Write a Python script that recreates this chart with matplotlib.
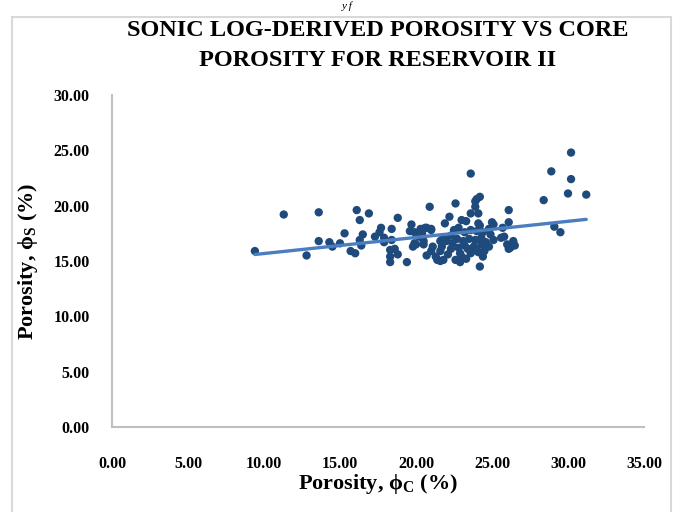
import matplotlib.pyplot as plt
import numpy as np
from matplotlib.patches import Rectangle

# ---------- data ----------
core_phi = [
    9.4, 11.3, 12.8, 13.6, 13.6, 14.3, 14.5, 15.0, 15.3, 15.7, 16.0, 16.1, 16.3,
    16.9, 16.5, 16.3, 16.4, 17.3, 17.7, 17.6, 17.9, 17.9, 18.4, 18.4, 18.8, 18.3,
    18.6, 18.3, 18.8, 18.3, 19.4, 19.7, 19.6, 19.9, 19.8, 19.9, 20.4, 20.7, 20.5,
    20.9, 20.7, 20.0, 20.5, 21.0, 21.3, 21.4, 21.6, 21.1, 21.6, 21.7, 21.8, 21.9,
    22.2, 21.0, 23.6, 22.6, 23.9, 24.0, 24.2, 23.9, 23.6, 24.1, 23.0, 23.3, 24.1,
    24.2, 26.1, 25.0, 25.1, 26.1, 22.5, 22.8, 23.2, 23.6, 24.0, 24.8, 25.7, 25.6,
    25.8, 25.1, 26.4, 26.5, 26.2, 24.8, 24.3, 23.8, 23.4, 22.8, 22.3, 22.0, 21.7,
    23.0, 22.6, 22.9, 23.6, 24.1, 24.2, 21.8, 21.6, 30.2, 28.9, 30.2, 30.0, 31.2,
    28.4, 29.1, 29.5, 26.0, 22.4, 22.7, 23.1, 23.5, 23.9, 24.3, 24.6, 23.2, 24.0,
    24.5, 22.9, 23.3, 24.4, 22.1, 24.9, 24.4, 22.3, 20.2, 20.3, 20.6, 21.0, 26.1,
]
sonic_phi = [
    15.9, 19.2, 15.5, 19.4, 16.8, 16.7, 16.3, 16.6, 17.5, 15.9, 15.7, 19.6, 18.7,
    19.3, 17.4, 16.9, 16.4, 17.2, 18.0, 17.6, 17.1, 16.7, 17.9, 16.9, 18.9, 16.0,
    16.1, 15.4, 15.6, 14.9, 14.9, 18.3, 17.7, 17.6, 16.3, 16.6, 17.5, 18.0, 16.5,
    19.9, 15.5, 16.5, 16.8, 15.9, 15.4, 15.1, 15.0, 16.3, 16.8, 16.3, 17.1, 18.4,
    19.0, 17.8, 22.9, 20.2, 20.4, 20.6, 20.8, 19.9, 19.3, 19.3, 18.7, 18.6, 18.4,
    18.2, 19.6, 18.5, 18.3, 18.5, 17.8, 18.0, 17.6, 17.8, 17.7, 17.9, 18.0, 17.1,
    17.2, 16.9, 16.8, 16.4, 16.2, 16.3, 16.5, 16.3, 16.1, 16.2, 16.1, 16.8, 16.9,
    15.4, 15.1, 14.9, 15.7, 15.8, 14.5, 15.1, 15.9, 24.8, 23.1, 22.4, 21.1, 21.0,
    20.5, 18.1, 17.6, 16.5, 16.6, 17.0, 16.8, 17.0, 16.9, 17.1, 16.7, 16.4, 16.0,
    15.9, 15.7, 15.2, 15.4, 15.6, 17.4, 17.6, 17.3, 17.2, 17.9, 18.0, 17.9, 16.1,
]
x_ticks = [0, 5, 10, 15, 20, 25, 30, 35]
y_ticks = [0, 5, 10, 15, 20, 25, 30]

DOT_BLUE = "#1F4A7C"
LINE_BLUE = "#4A7EBF"
AXIS_GREY = "#BFBFBF"
SERIF = ["Liberation Serif", "DejaVu Serif"]

plt.rcParams["font.family"] = SERIF
plt.rcParams["mathtext.fontset"] = "custom"
plt.rcParams["mathtext.rm"] = "Liberation Serif:bold"

W, H = 678, 512
fig = plt.figure(figsize=(W / 100, H / 100), dpi=100)
fig.patch.set_facecolor("white")

# outer chart frame (bottom runs off the page)
fig.patches.append(
    Rectangle((12 / W, -0.05), (671 - 12) / W, 1.05 - 17 / H,
              transform=fig.transFigure, fill=False,
              edgecolor="#D9D9D9", linewidth=1.5)
)
# leftover bit of the page text above the chart
fig.text(0.512, 1 - 1 / H, "y f", ha="center", va="top",
         fontsize=8, style="italic")

left, right, top, bottom = 112, 644, 95, 427
ax = fig.add_axes([left / W, (H - bottom) / H, (right - left) / W, (bottom - top) / H])

x = np.array(core_phi)
y = np.array(sonic_phi)
ax.scatter(x, y, s=36, color=DOT_BLUE, edgecolors="none", zorder=2)

# linear trendline (Excel-style) over the data range
slope, intercept = np.polyfit(x, y, 1)
xs = np.array([x.min(), x.max()])
ax.plot(xs, slope * xs + intercept, color=LINE_BLUE, linewidth=2.4,
        solid_capstyle="round", zorder=3)

ax.set_xlim(0, 35)
ax.set_ylim(0, 30)
ax.set_xticks(x_ticks)
ax.set_yticks(y_ticks)
ax.set_xticklabels([f"{v:.2f}" for v in x_ticks])
ax.set_yticklabels([f"{v:.2f}" for v in y_ticks])
ax.tick_params(length=0, labelsize=11.5)
ax.tick_params(axis="x", pad=21)
ax.tick_params(axis="y", pad=16)
for lab in ax.get_xticklabels() + ax.get_yticklabels():
    lab.set_fontweight("bold")

for spine in ["top", "right"]:
    ax.spines[spine].set_visible(False)
for spine in ["left", "bottom"]:
    ax.spines[spine].set_color(AXIS_GREY)
    ax.spines[spine].set_linewidth(1.5)

ax.set_xlabel(r"Porosity, ϕ$_\mathregular{C}$ (%)", fontsize=16,
              fontweight="bold", labelpad=0)
ax.set_ylabel(r"Porosity, ϕ$_\mathregular{S}$ (%)", fontsize=16,
              fontweight="bold", labelpad=10)

fig.text(378 / W, 1 - 30 / H, "SONIC LOG-DERIVED POROSITY VS CORE",
         ha="center", va="center", fontsize=17.5, fontweight="bold")
fig.text(378 / W, 1 - 60 / H, "POROSITY FOR RESERVOIR II",
         ha="center", va="center", fontsize=17.5, fontweight="bold")

fig.savefig("out.png", dpi=100)
